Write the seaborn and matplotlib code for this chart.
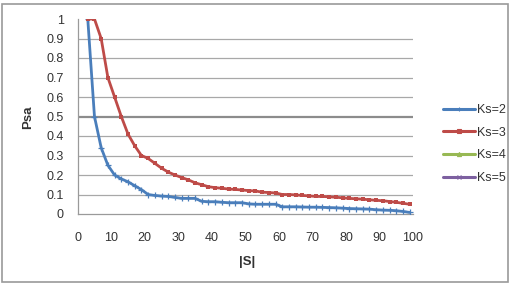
import matplotlib
matplotlib.use("Agg")
import matplotlib.pyplot as plt
import seaborn as sns
import pandas as pd
from matplotlib.patches import Rectangle
from matplotlib.lines import Line2D

# ---- data ----
s_values = [3, 5, 7, 9, 11, 13, 15, 17, 19, 21, 23, 25, 27, 29, 31, 33, 35, 37, 39, 41,
            43, 45, 47, 49, 51, 53, 55, 57, 59, 61, 63, 65, 67, 69, 71, 73, 75, 77, 79, 81,
            83, 85, 87, 89, 91, 93, 95, 97, 99]
ks2 = [1.0, 0.50, 0.34, 0.25, 0.20, 0.18, 0.165, 0.145, 0.125, 0.10, 0.095, 0.092, 0.09, 0.085, 0.08, 0.08, 0.08, 0.065, 0.063, 0.063,
       0.06, 0.058, 0.058, 0.058, 0.052, 0.05, 0.05, 0.05, 0.05, 0.037, 0.037, 0.037, 0.036, 0.035, 0.035, 0.034, 0.033, 0.032, 0.03, 0.028,
       0.027, 0.026, 0.025, 0.022, 0.02, 0.019, 0.017, 0.013, 0.008]
ks3 = [1.0, 1.0, 0.90, 0.70, 0.60, 0.50, 0.41, 0.35, 0.30, 0.285, 0.26, 0.235, 0.215, 0.20, 0.187, 0.175, 0.16, 0.15, 0.14, 0.135,
       0.132, 0.128, 0.126, 0.123, 0.12, 0.118, 0.112, 0.11, 0.108, 0.10, 0.10, 0.098, 0.095, 0.093, 0.09, 0.09, 0.088, 0.086, 0.083, 0.08,
       0.078, 0.076, 0.073, 0.07, 0.068, 0.064, 0.06, 0.055, 0.05]
ks4 = []
ks5 = []
series_labels = ["Ks=2", "Ks=3", "Ks=4", "Ks=5"]
x_ticks = [0, 10, 20, 30, 40, 50, 60, 70, 80, 90, 100]
y_ticks = [0, 0.1, 0.2, 0.3, 0.4, 0.5, 0.6, 0.7, 0.8, 0.9, 1]
y_ticklabels = ["0", "0.1", "0.2", "0.3", "0.4", "0.5", "0.6", "0.7", "0.8", "0.9", "1"]

colors = {"Ks=2": "#4a7ebb", "Ks=3": "#be4b48", "Ks=4": "#98b954", "Ks=5": "#7d60a0"}
markers = {"Ks=2": "+", "Ks=3": "s", "Ks=4": "^", "Ks=5": "x"}

df = pd.concat([
    pd.DataFrame({"S": s_values, "Psa": ks2, "series": "Ks=2"}),
    pd.DataFrame({"S": s_values, "Psa": ks3, "series": "Ks=3"}),
])

sns.set_style("white")
plt.rcParams["font.family"] = ["Liberation Sans", "DejaVu Sans"]

W, H = 516, 285
fig = plt.figure(figsize=(W / 100, H / 100), dpi=100)
ax = fig.add_axes([77.7 / W, 1 - 214 / H, (413 - 77.7) / W, (214 - 19) / H])

for lab in ["Ks=2", "Ks=3"]:
    sub = df[df["series"] == lab]
    sns.lineplot(data=sub, x="S", y="Psa", ax=ax, color=colors[lab], linewidth=2.0,
                 marker=markers[lab], markersize=3.2 if lab == "Ks=3" else 4,
                 markeredgewidth=0.9 if lab == "Ks=2" else 0,
                 markeredgecolor=colors[lab], markerfacecolor=colors[lab],
                 legend=False, zorder=3)
ax.plot(ks4, ks4, color=colors["Ks=4"], lw=2)
ax.plot(ks5, ks5, color=colors["Ks=5"], lw=2)

ax.set_xlim(0, 100)
ax.set_ylim(0, 1)
ax.set_xticks(x_ticks)
ax.set_yticks(y_ticks)
ax.set_yticklabels(y_ticklabels)
for yv in y_ticks[1:-1]:
    ax.axhline(yv, color="#8c8c8c" if yv == 0.5 else "#a8a8a8",
               lw=1.6 if yv == 0.5 else 0.9, zorder=1)

for side in ["top", "right"]:
    ax.spines[side].set_visible(False)
for side in ["left", "bottom"]:
    ax.spines[side].set_color("#9a9a9a")
    ax.spines[side].set_linewidth(0.9)
ax.tick_params(axis="x", direction="out", length=4, width=0.9, color="#9a9a9a",
               pad=9, labelsize=9, labelcolor="#333333")
ax.tick_params(axis="y", direction="out", length=3, width=0.9, color="#9a9a9a",
               pad=7, labelsize=9, labelcolor="#333333")
ax.set_xlabel("")
ax.set_ylabel("")

fig.text(28 / W, 1 - 117 / H, "Psa", rotation=90, ha="center", va="center",
         fontsize=9.5, fontweight="bold", color="#333333")
fig.text(247 / W, 1 - 262 / H, "|S|", ha="center", va="center",
         fontsize=9.5, fontweight="bold", color="#333333")

handles = [Line2D([0], [0], color=colors[l], lw=2.2, marker=markers[l], markersize=3,
                  markeredgewidth=0.8) for l in series_labels]
fig.legend(handles, series_labels, loc="center left", bbox_to_anchor=(432 / W, 1 - 144 / H),
           frameon=False, fontsize=9, handlelength=2.5, handletextpad=0.2,
           labelspacing=0.85, labelcolor="#333333")

fig.patches.append(Rectangle((2 / W, 1 - 282 / H), 506 / W, 278 / H, transform=fig.transFigure,
                             fill=False, edgecolor="#9a9a9a", lw=1.2))

fig.savefig("out.png", dpi=100)
